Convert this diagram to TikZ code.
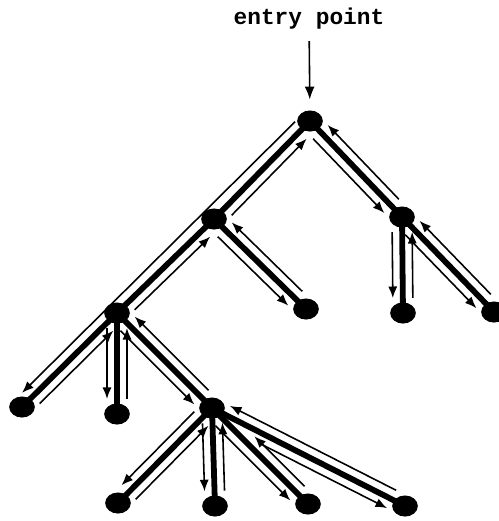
\documentclass[tikz,border=0pt]{standalone}
\usepackage{fontspec}
\newfontfamily\entryfont{Liberation Mono}
\usetikzlibrary{shapes.geometric, arrows.meta, calc}

\tikzset{
  vertex/.style={ellipse, fill=black, inner sep=0pt, minimum width=14.6pt, minimum height=12pt},
  branch/.style={line width=3.3pt, shorten <=-2pt, shorten >=-2pt},
  tour/.style={line width=0.9pt, -{Latex[length=6.6pt,width=5.2pt]}},
}
\newcommand{\offs}{0.2cm}
% down the right-hand side of parent -> child
\newcommand{\godown}[3][0.3cm]{%
  \draw[tour] ($(#2)!#1!(#3)!\offs!-90:(#3)$) -- ($(#3)!0.3cm!(#2)!\offs!90:(#2)$);}
% back up on the other side
\newcommand{\goup}[3][0.3cm]{%
  \draw[tour] ($(#3)!0.3cm!(#2)!\offs!-90:(#2)$) -- ($(#2)!#1!(#3)!\offs!90:(#3)$);}

\begin{document}
\begin{tikzpicture}[x=0.02cm, y=-0.02cm]
\useasboundingbox (0,0) rectangle (499,521);

\node[font=\entryfont\bfseries\fontsize{13}{15}\selectfont] (entry) at (309,19) {entry point};

\node[vertex] (root) at (310,121) {};
\node[vertex] (l) at (214,219) {};
\node[vertex] (r) at (402,217) {};
\node[vertex] (ll) at (117,313) {};
\node[vertex] (lr) at (306,309) {};
\node[vertex] (rl) at (403,313) {};
\node[vertex] (rr) at (494,312) {};
\node[vertex] (lll) at (22,407) {};
\node[vertex] (llm) at (117,414) {};
\node[vertex] (llr) at (212,408) {};
\node[vertex] (q1) at (118,503) {};
\node[vertex] (q2) at (215,506) {};
\node[vertex] (q3) at (308,504) {};
\node[vertex] (q4) at (405,506) {};

\draw[line width=0.9pt, -{Latex[length=7.4pt,width=5.7pt]}, shorten <=3pt, shorten >=6pt] (entry) -- (root);

\foreach \p/\c in {root/l, root/r, l/ll, l/lr, r/rl, r/rr, ll/lll, ll/llm, ll/llr,
                   llr/q1, llr/q2, llr/q3, llr/q4}
  \draw[branch] (\p) -- (\c);

% the walk round the tree
\draw[tour] ($(root)!0.22cm!(lll)!\offs!-90:(lll)$) -- ($(lll)!0.2cm!(root)!\offs!90:(root)$);
\goup{ll}{lll}
\godown{ll}{llm} \goup{ll}{llm}
\godown{ll}{llr}
\godown{llr}{q1} \goup{llr}{q1}
\godown{llr}{q2} \goup{llr}{q2}
\godown{llr}{q3} \goup[1cm]{llr}{q3}
\godown[1.15cm]{llr}{q4} \goup{llr}{q4}
\goup{ll}{llr}
\goup{l}{ll}
\godown{l}{lr} \goup{l}{lr}
\goup{root}{l}
\godown{root}{r}
\godown{r}{rl} \goup{r}{rl}
\godown{r}{rr} \goup{r}{rr}
\goup{root}{r}
\end{tikzpicture}
\end{document}
